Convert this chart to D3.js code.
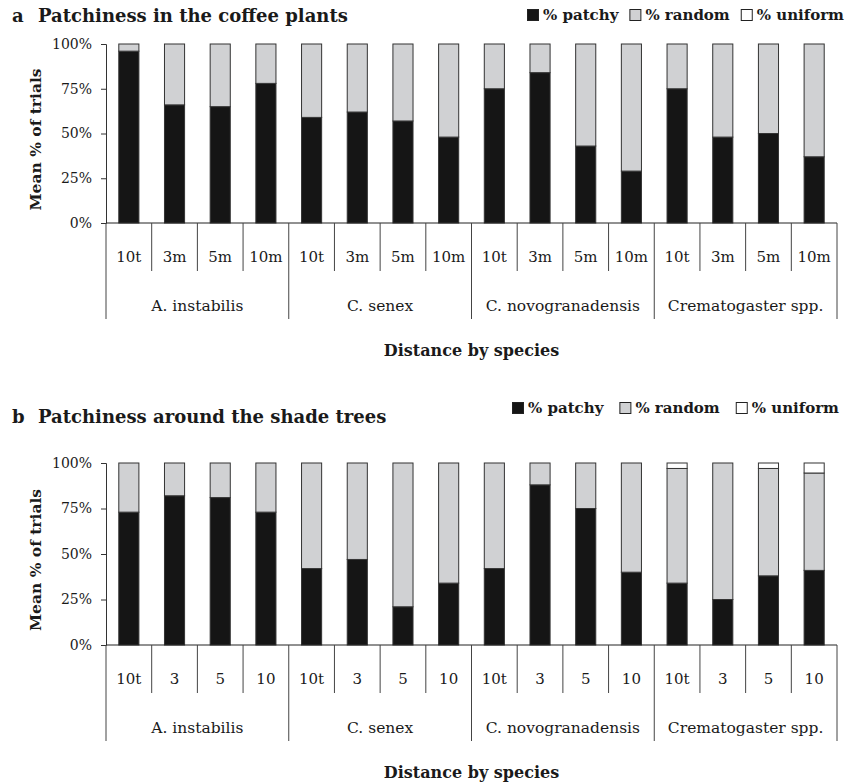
<!DOCTYPE html>
<html>
<head>
<meta charset="utf-8">
<script src="https://cdn.jsdelivr.net/npm/d3@7"></script>
<style>
  body { margin: 0; background: #fff; }
  text { font-family: 'DejaVu Serif', serif; fill: #1a1a1a; }
</style>
</head>
<body>
<svg id="chart"></svg>
<script>
const species = ['A. instabilis', 'C. senex', 'C. novogranadensis', 'Crematogaster spp.']
const distancesA = ['10t', '3m', '5m', '10m']
const distancesB = ['10t', '3', '5', '10']
const seriesKeys = ['patchy', 'random', 'uniform']
const seriesLabels = ['% patchy', '% random', '% uniform']
const seriesColors = ['#151515', '#d0d1d3', '#ffffff']
const yTicks = [0, 25, 50, 75, 100]

// panel a: coffee plants
const patchyA = [96, 66, 65, 78, 59, 62, 57, 48, 75, 84, 43, 29, 75, 48, 50, 37]
const randomA = [4, 34, 35, 22, 41, 38, 43, 52, 25, 16, 57, 71, 25, 52, 50, 63]
const uniformA = [0, 0, 0, 0, 0, 0, 0, 0, 0, 0, 0, 0, 0, 0, 0, 0]

// panel b: shade trees
const patchyB = [73, 82, 81, 73, 42, 47, 21, 34, 42, 88, 75, 40, 34, 25, 38, 41]
const randomB = [27, 18, 19, 27, 58, 53, 79, 66, 58, 12, 25, 60, 63, 75, 59, 53.5]
const uniformB = [0, 0, 0, 0, 0, 0, 0, 0, 0, 0, 0, 0, 3, 0, 3, 5.5]

const svg = d3.select('#chart').attr('width', 856).attr('height', 782)

function drawPanel(cfg) {
    const n = species.length * cfg.distances.length
    const idx = d3.range(n)
    const rows = idx.map(i => ({ i, patchy: cfg.patchy[i], random: cfg.random[i], uniform: cfg.uniform[i] }))
    const stacked = d3.stack().keys(seriesKeys)(rows)

    const left = 106, right = 837
    const x = d3.scaleBand().domain(idx).range([left, right]).paddingInner(0.56).paddingOuter(0.28)
    const cell = d3.scaleBand().domain(idx).range([left, right])
    const y = d3.scaleLinear().domain([0, 100]).range([cfg.bottom, cfg.top])

    const g = svg.append('g')

    // title
    g.append('text').attr('x', 12).attr('y', cfg.titleY)
        .attr('font-size', 18).attr('font-weight', 'bold').text(cfg.letter)
    g.append('text').attr('x', 38).attr('y', cfg.titleY)
        .attr('font-size', 18).attr('font-weight', 'bold').text(cfg.title)

    // legend
    let lx = cfg.legendX
    seriesLabels.forEach((label, k) => {
        g.append('rect').attr('x', lx + 0.5).attr('y', cfg.legendY - 5.5)
            .attr('width', 11).attr('height', 11)
            .attr('fill', seriesColors[k]).attr('stroke', '#222')
        const t = g.append('text').attr('x', lx + 16).attr('y', cfg.legendY + 5)
            .attr('font-size', 15).attr('font-weight', 'bold').text(label)
        lx += 16 + t.node().getComputedTextLength() + cfg.legendGap
    })

    // y axis
    const yAxis = g.append('g')
        .attr('transform', `translate(${left},0)`)
        .call(d3.axisLeft(y).tickValues(yTicks).tickFormat(d => d + '%').tickSize(5).tickPadding(9))
    yAxis.selectAll('path, line').attr('stroke', '#333')
    yAxis.selectAll('text').attr('font-size', 14).attr('font-family', null).attr('fill', '#1a1a1a')

    g.append('text')
        .attr('transform', `translate(41,${(cfg.top + cfg.bottom) / 2 + 6}) rotate(-90)`)
        .attr('text-anchor', 'middle').attr('font-size', 15.5).attr('font-weight', 'bold')
        .text('Mean % of trials')

    // bars
    g.append('g').selectAll('g')
        .data(stacked)
        .enter().append('g')
            .attr('fill', (d, k) => seriesColors[k])
            .selectAll('rect')
            .data(d => d.filter(s => s[1] - s[0] > 0))
            .enter().append('rect')
                .attr('x', s => x(s.data.i))
                .attr('width', x.bandwidth())
                .attr('y', s => y(s[1]))
                .attr('height', s => y(s[0]) - y(s[1]))
                .attr('stroke', '#333')
                .attr('stroke-width', 1)

    // category axis
    const catTickY = cfg.bottom + 48
    const groupTickY = cfg.bottom + 96
    g.append('line').attr('x1', left).attr('x2', right)
        .attr('y1', cfg.bottom).attr('y2', cfg.bottom).attr('stroke', '#222')
    idx.concat([n]).forEach(i => {
        const xx = i < n ? cell(i) : right
        const isGroup = i % cfg.distances.length === 0
        g.append('line').attr('x1', xx).attr('x2', xx)
            .attr('y1', cfg.bottom).attr('y2', isGroup ? groupTickY : catTickY)
            .attr('stroke', '#444')
    })
    idx.forEach(i => {
        g.append('text').attr('x', cell(i) + cell.bandwidth() / 2).attr('y', cfg.bottom + 39)
            .attr('text-anchor', 'middle').attr('font-size', 15)
            .text(cfg.distances[i % cfg.distances.length])
    })
    species.forEach((s, j) => {
        const first = j * cfg.distances.length
        const x0 = cell(first)
        const x1 = cell(first + cfg.distances.length - 1) + cell.bandwidth()
        g.append('text').attr('x', (x0 + x1) / 2).attr('y', cfg.bottom + 88)
            .attr('text-anchor', 'middle').attr('font-size', 15.5).text(s)
    })

    g.append('text').attr('x', (left + right) / 2).attr('y', cfg.bottom + 133)
        .attr('text-anchor', 'middle').attr('font-size', 16).attr('font-weight', 'bold')
        .text('Distance by species')
}

drawPanel({
    letter: 'a', title: 'Patchiness in the coffee plants', titleY: 22,
    legendX: 527, legendY: 15, legendGap: 11,
    distances: distancesA, patchy: patchyA, random: randomA, uniform: uniformA,
    top: 44, bottom: 223
})

drawPanel({
    letter: 'b', title: 'Patchiness around the shade trees', titleY: 423,
    legendX: 512, legendY: 408, legendGap: 16,
    distances: distancesB, patchy: patchyB, random: randomB, uniform: uniformB,
    top: 463, bottom: 645
})
</script>
</body>
</html>
